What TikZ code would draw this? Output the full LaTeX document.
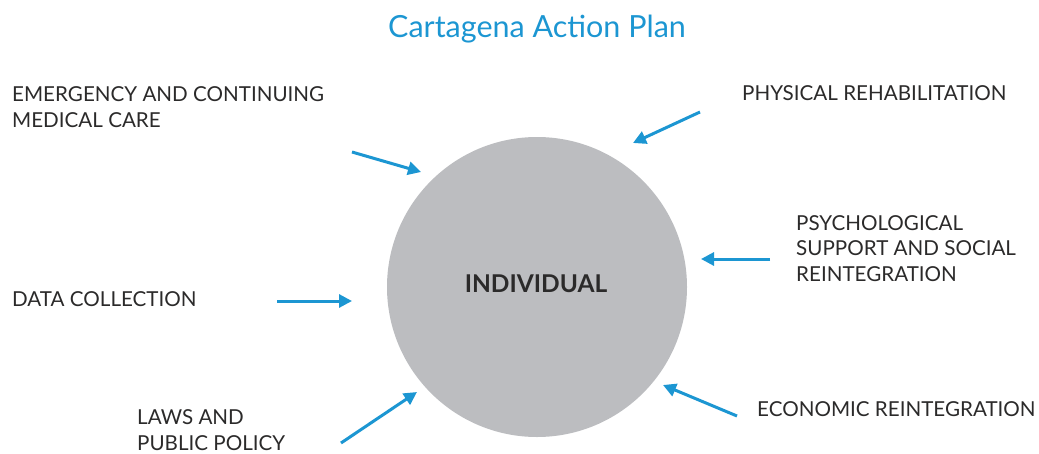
\documentclass[tikz,border=0pt]{standalone}
\usepackage{fontspec}
\setmainfont{Lato}
\usetikzlibrary{arrows.meta}
\definecolor{capblue}{HTML}{1C96D2}
\definecolor{circgray}{HTML}{BCBDC0}
\definecolor{txtgray}{HTML}{2B2A2A}
\begin{document}
\begin{tikzpicture}[x=1pt,y=-1pt,
  lbl/.style={anchor=base west, inner sep=0pt, align=left, text=txtgray,
    font=\fontsize{20.6}{25.5}\selectfont},
  inarrow/.style={draw=capblue, line width=3pt,
    -{Triangle[length=13pt,width=13pt]}}]
\useasboundingbox (0,0) rectangle (1039,453);
\node[anchor=base, inner sep=0pt, text=capblue, font=\fontsize{30.5}{36}\selectfont] (title) at (537,37) {Cartagena Action Plan};
\node[circle, fill=circgray, minimum size=300pt, inner sep=0pt] (ind) at (537,287) {};
\node[anchor=base, inner sep=0pt, text=txtgray, font=\fontsize{24.5}{28}\bfseries\selectfont] (indl) at (536,292) {INDIVIDUAL};
\node[lbl] (emg) at (12,127) {EMERGENCY AND CONTINUING\\MEDICAL CARE};
\node[lbl] (phy) at (742,100) {PHYSICAL REHABILITATION};
\node[lbl] (psy) at (796,281) {PSYCHOLOGICAL\\SUPPORT AND SOCIAL\\REINTEGRATION};
\node[lbl] (dat) at (12,306) {DATA COLLECTION};
\node[lbl] (law) at (137,450) {LAWS AND\\PUBLIC POLICY};
\node[lbl] (eco) at (757,416) {ECONOMIC REINTEGRATION};
\coordinate (a1s) at (352,152); \coordinate (a1e) at (421,172);
\coordinate (a2s) at (700,112); \coordinate (a2e) at (633,143);
\coordinate (a3s) at (770,259); \coordinate (a3e) at (701,259);
\coordinate (a4s) at (277,301); \coordinate (a4e) at (352,301);
\coordinate (a5s) at (341,443); \coordinate (a5e) at (417,392);
\coordinate (a6s) at (737,416); \coordinate (a6e) at (663,385);
\draw[inarrow] (a1s) -- (a1e);
\draw[inarrow] (a2s) -- (a2e);
\draw[inarrow] (a3s) -- (a3e);
\draw[inarrow] (a4s) -- (a4e);
\draw[inarrow] (a5s) -- (a5e);
\draw[inarrow] (a6s) -- (a6e);
\end{tikzpicture}
\end{document}
